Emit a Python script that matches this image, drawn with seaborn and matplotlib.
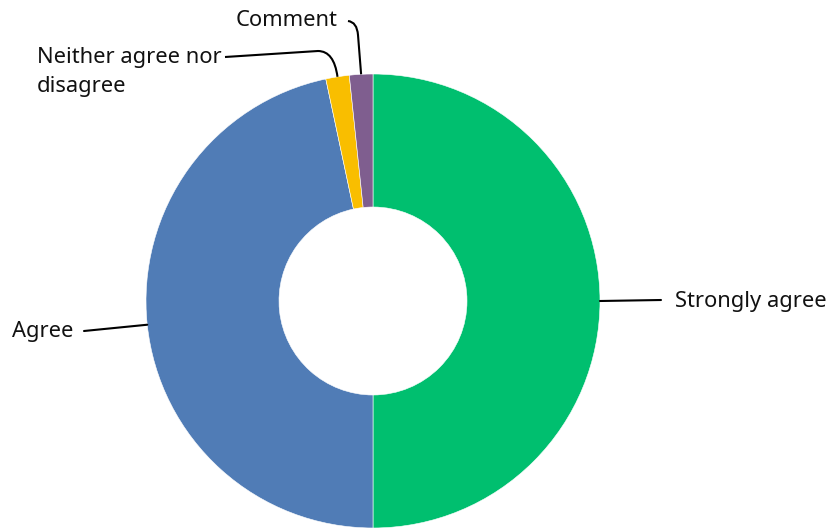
import numpy as np
import matplotlib
matplotlib.use("Agg")
import matplotlib.pyplot as plt
from matplotlib.path import Path
from matplotlib.patches import PathPatch
import seaborn as sns

# Survey response counts
categories = ["Strongly agree", "Agree", "Neither agree nor\ndisagree", "Comment"]
counts = [30, 28, 1, 1]
colors = ["#00BF6F", "#507CB6", "#F9BE00", "#7F5E8F"]

sns.set_theme(style="white")
plt.rcParams["font.family"] = ["Noto Sans", "DejaVu Sans"]

W, H = 831, 529
fig = plt.figure(figsize=(W / 100, H / 100), dpi=100)
ax = fig.add_axes([0, 0, 1, 1])

# pixel layout helpers: donut centre and outer radius in pixels
CX, CY, R = 373, 301, 227


def px(x, y):
    return ((x - CX) / R, (CY - y) / R)


wedges, _ = ax.pie(counts, colors=colors, startangle=90, counterclock=False,
                   radius=1.0, center=(0, 0),
                   wedgeprops=dict(width=1 - 94 / 227, edgecolor="white", linewidth=0.4))

ax.set_xlim(-CX / R, (W - CX) / R)
ax.set_ylim(-(H - CY) / R, CY / R)
ax.set_aspect("equal")
ax.axis("off")


def anchor(w):
    a = np.deg2rad((w.theta1 + w.theta2) / 2)
    return np.cos(a), np.sin(a)


fs = 15.8
tc = "#111111"
lw = 1.5

# Strongly agree
ax0 = anchor(wedges[0])
p1 = px(661, 300)
ax.plot([ax0[0], p1[0]], [ax0[1], p1[1]], color="black", lw=lw)
t = px(675, 301)
ax.text(t[0], t[1], categories[0], ha="left", va="center", fontsize=fs, color=tc)

# Agree
a1 = anchor(wedges[1])
p1 = px(84, 331)
ax.plot([a1[0], p1[0]], [a1[1], p1[1]], color="black", lw=lw)
t = px(73, 332)
ax.text(t[0], t[1], categories[1], ha="right", va="center", fontsize=fs, color=tc)

# Neither agree nor disagree
a2 = anchor(wedges[2])
pts = [px(225, 57), px(318, 51), px(334, 51), a2]
path = Path(pts, [Path.MOVETO, Path.LINETO, Path.CURVE3, Path.CURVE3])
ax.add_patch(PathPatch(path, fill=False, edgecolor="black", lw=lw))
t = px(37, 72)
ax.text(t[0], t[1], categories[2], ha="left", va="center", fontsize=fs,
        color=tc, linespacing=1.5)

# Comment
a3 = anchor(wedges[3])
pts = [px(348, 21), px(357, 22), px(358, 35), a3]
path = Path(pts, [Path.MOVETO, Path.CURVE3, Path.CURVE3, Path.LINETO])
ax.add_patch(PathPatch(path, fill=False, edgecolor="black", lw=lw))
t = px(338, 20)
ax.text(t[0], t[1], categories[3], ha="right", va="center", fontsize=fs, color=tc)

fig.savefig("out.png", dpi=100, facecolor="white")
